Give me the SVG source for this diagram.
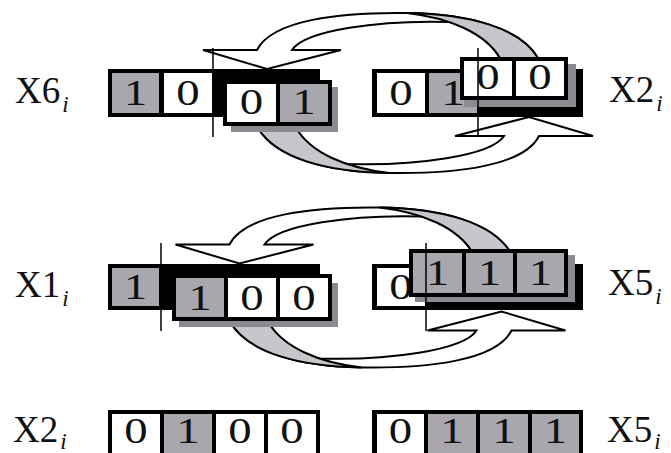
<svg xmlns="http://www.w3.org/2000/svg" xmlns:xlink="http://www.w3.org/1999/xlink" width="671" height="453" viewBox="0 0 671 453">
<style>
.blk{fill:#000}
.g{fill:#a9a7ad}
.w{fill:#fff}
.sh{fill:#8c8a90}
.rib{fill:#fff;stroke:#000;stroke-width:2;stroke-linejoin:miter}
.ribg{fill:#c8c6cc;stroke:#000;stroke-width:2}
.vl{stroke:#000;stroke-width:1.5;fill:none}
.d{font-family:"Liberation Serif","Times New Roman",serif;font-size:36px;text-anchor:middle;fill:#111}
.lbl{font-family:"Liberation Serif","Times New Roman",serif;font-size:37px;fill:#111}
.sub{font-style:italic;font-size:23px}
</style>
<defs>
<g id="swap-arrow">
<path class="rib" d="M257,50 C272,20 340,12 407,13 C470,14 520,28 538,58 L500,58 C488,38 470,25 449,22 C380,20 305,30 292,50 L341,50 L267,69 L203,50 Z"/>
<path class="ribg" d="M407,13 C470,14 520,28 538,58 L500,58 C485,33 450,18 407,13 Z"/>
</g>
</defs>
<rect width="671" height="453" fill="#fff"/>
<g id="connectors">
<use xlink:href="#swap-arrow" href="#swap-arrow"/>
<use xlink:href="#swap-arrow" href="#swap-arrow" transform="rotate(180 398 93)"/>
<use xlink:href="#swap-arrow" href="#swap-arrow" transform="translate(-27.5 194.5)"/>
<use xlink:href="#swap-arrow" href="#swap-arrow" transform="translate(-27.5 194.5) rotate(180 398 93)"/>
</g>
<g id="reg-x6">
<text class="lbl" x="15" y="103">X6<tspan class="sub" dx="2" dy="9">i</tspan></text>
<rect class="blk" x="108" y="69" width="212" height="48"/>
<rect class="g" x="112" y="73" width="47" height="40"/>
<rect class="w" x="164" y="73" width="48" height="40"/>
<text class="d" transform="translate(135.5 105) scale(1.3 1)">1</text>
<text class="d" transform="translate(188 105) scale(1.3 1)">0</text>
<rect class="sh" x="231" y="87" width="107" height="45"/>
<rect class="blk" x="223" y="80" width="109" height="46"/>
<rect class="w" x="227" y="84" width="49" height="38"/>
<rect class="g" x="280" y="84" width="48" height="38"/>
<text class="d" transform="translate(251.5 114) scale(1.3 1)">0</text>
<text class="d" transform="translate(304 114) scale(1.3 1)">1</text>
<line class="vl" x1="213" y1="48" x2="213" y2="137"/>
</g>
<g id="reg-x2-top">
<rect class="blk" x="372" y="69" width="211" height="48"/>
<rect class="w" x="377" y="73" width="48" height="40"/>
<rect class="g" x="429" y="73" width="48" height="40"/>
<text class="d" transform="translate(401 105) scale(1.3 1)">0</text>
<text class="d" transform="translate(453 105) scale(1.3 1)">1</text>
<rect class="sh" x="464" y="64" width="112" height="43"/>
<rect class="blk" x="460" y="57" width="108" height="43"/>
<rect class="w" x="464" y="61" width="48" height="35"/>
<rect class="w" x="516" y="61" width="48" height="35"/>
<text class="d" transform="translate(488 89) scale(1.3 1)">0</text>
<text class="d" transform="translate(540 89) scale(1.3 1)">0</text>
<line class="vl" x1="478" y1="48" x2="478" y2="137"/>
<text class="lbl" x="609" y="102">X2<tspan class="sub" dx="2" dy="9">i</tspan></text>
</g>
<g id="reg-x1">
<text class="lbl" x="15" y="297">X1<tspan class="sub" dx="2" dy="9">i</tspan></text>
<rect class="blk" x="108" y="264" width="212" height="46"/>
<rect class="g" x="112" y="268" width="47" height="38"/>
<text class="d" transform="translate(135.5 299) scale(1.3 1)">1</text>
<rect class="sh" x="179" y="283" width="159" height="44"/>
<rect class="blk" x="172" y="274" width="160" height="47"/>
<rect class="g" x="176" y="278" width="48" height="39"/>
<rect class="w" x="228" y="278" width="48" height="39"/>
<rect class="w" x="280" y="278" width="48" height="39"/>
<text class="d" transform="translate(200 310) scale(1.3 1)">1</text>
<text class="d" transform="translate(252 310) scale(1.3 1)">0</text>
<text class="d" transform="translate(304 310) scale(1.3 1)">0</text>
<line class="vl" x1="161" y1="243" x2="161" y2="331"/>
</g>
<g id="reg-x5-mid">
<rect class="blk" x="372" y="264" width="211" height="46"/>
<rect class="w" x="377" y="268" width="48" height="38"/>
<text class="d" transform="translate(401 299) scale(1.3 1)">0</text>
<rect class="sh" x="415" y="255" width="160" height="47"/>
<rect class="blk" x="409" y="249" width="159" height="48"/>
<rect class="g" x="413" y="253" width="49" height="40"/>
<rect class="g" x="466" y="253" width="47" height="40"/>
<rect class="g" x="517" y="253" width="47" height="40"/>
<text class="d" transform="translate(437.5 285) scale(1.3 1)">1</text>
<text class="d" transform="translate(489.5 285) scale(1.3 1)">1</text>
<text class="d" transform="translate(540.5 285) scale(1.3 1)">1</text>
<line class="vl" x1="426" y1="243" x2="426" y2="331"/>
<text class="lbl" x="608" y="295">X5<tspan class="sub" dx="2" dy="9">i</tspan></text>
</g>
<g id="reg-x2-bottom">
<text class="lbl" x="13" y="442">X2<tspan class="sub" dx="2" dy="7">i</tspan></text>
<rect class="blk" x="108" y="410" width="212" height="48"/>
<rect class="w" x="112" y="414" width="48" height="40"/>
<rect class="g" x="164" y="414" width="48" height="40"/>
<rect class="w" x="216" y="414" width="48" height="40"/>
<rect class="w" x="268" y="414" width="48" height="40"/>
<text class="d" transform="translate(136 443) scale(1.3 1)">0</text>
<text class="d" transform="translate(188 443) scale(1.3 1)">1</text>
<text class="d" transform="translate(240 443) scale(1.3 1)">0</text>
<text class="d" transform="translate(292 443) scale(1.3 1)">0</text>
</g>
<g id="reg-x5-bottom">
<rect class="blk" x="372" y="410" width="211" height="48"/>
<rect class="w" x="377" y="414" width="47" height="40"/>
<rect class="g" x="428" y="414" width="48" height="40"/>
<rect class="g" x="480" y="414" width="48" height="40"/>
<rect class="g" x="532" y="414" width="47" height="40"/>
<text class="d" transform="translate(400.5 443) scale(1.3 1)">0</text>
<text class="d" transform="translate(452 443) scale(1.3 1)">1</text>
<text class="d" transform="translate(504 443) scale(1.3 1)">1</text>
<text class="d" transform="translate(555.5 443) scale(1.3 1)">1</text>
<text class="lbl" x="607" y="442">X5<tspan class="sub" dx="2" dy="7">i</tspan></text>
</g>
</svg>
